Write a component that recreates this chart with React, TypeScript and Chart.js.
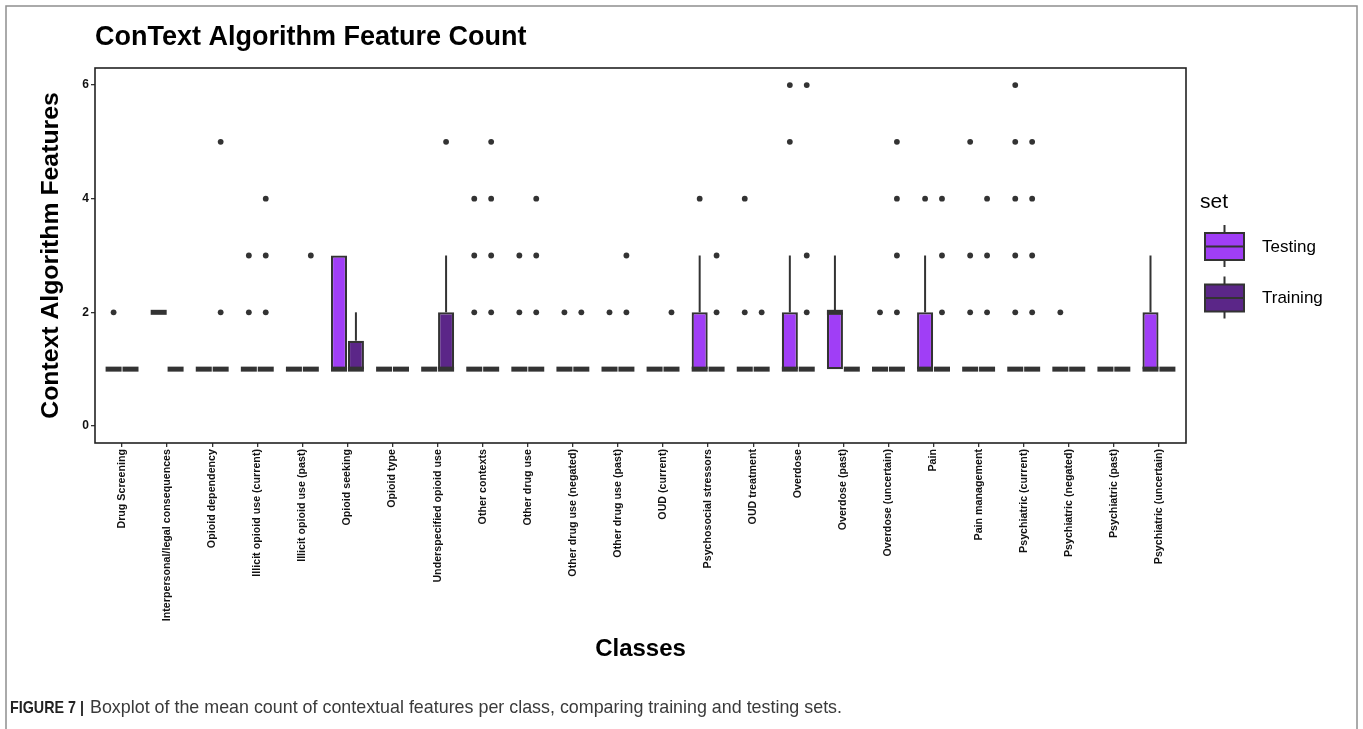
import React, { useEffect, useRef } from 'react';
import { Chart, registerables } from 'chart.js';

Chart.register(...registerables);

const FAMILY = '"Liberation Sans", Arial, Helvetica, sans-serif';

const classes = [
  'Drug Screening',
  'Interpersonal/legal consequences',
  'Opioid dependency',
  'Illicit opioid use (current)',
  'Illicit opioid use (past)',
  'Opioid seeking',
  'Opioid type',
  'Underspecified opioid use',
  'Other contexts',
  'Other drug use',
  'Other drug use (negated)',
  'Other drug use (past)',
  'OUD (current)',
  'Psychosocial stressors',
  'OUD treatment',
  'Overdose',
  'Overdose (past)',
  'Overdose (uncertain)',
  'Pain',
  'Pain management',
  'Psychiatric (current)',
  'Psychiatric (negated)',
  'Psychiatric (past)',
  'Psychiatric (uncertain)',
];

const yTicks = [0, 2, 4, 6];

// Testing set box statistics
const testQ1 = [1, 2, 1, 1, 1, 1, 1, 1, 1, 1, 1, 1, 1, 1, 1, 1, 1, 1, 1, 1, 1, 1, 1, 1];
const testMedian = [1, 2, 1, 1, 1, 1, 1, 1, 1, 1, 1, 1, 1, 1, 1, 1, 2, 1, 1, 1, 1, 1, 1, 1];
const testQ3 = [1, 2, 1, 1, 1, 3, 1, 1, 1, 1, 1, 1, 1, 2, 1, 2, 2, 1, 2, 1, 1, 1, 1, 2];
const testWhiskerHigh = [null, null, null, null, null, null, null, null, null, null, null, null, null, 3, null, 3, 3, null, 3, null, null, null, null, 3];
const testOutliers = [
  [2], [], [], [3, 2], [], [], [], [], [4, 3, 2], [3, 2], [2], [2],
  [], [4], [4, 2], [6, 5], [], [2], [4], [5, 3, 2], [6, 5, 4, 3, 2], [2], [], [],
];

// Training set box statistics
const trainQ1 = [1, 1, 1, 1, 1, 1, 1, 1, 1, 1, 1, 1, 1, 1, 1, 1, 1, 1, 1, 1, 1, 1, 1, 1];
const trainMedian = [1, 1, 1, 1, 1, 1, 1, 1, 1, 1, 1, 1, 1, 1, 1, 1, 1, 1, 1, 1, 1, 1, 1, 1];
const trainQ3 = [1, 1, 1, 1, 1, 1.5, 1, 2, 1, 1, 1, 1, 1, 1, 1, 1, 1, 1, 1, 1, 1, 1, 1, 1];
const trainWhiskerHigh = [null, null, null, null, null, 2, null, 3, null, null, null, null, null, null, null, null, null, null, null, null, null, null, null, null];
const trainOutliers = [
  [], [], [5, 2], [4, 3, 2], [3], [], [], [5], [5, 4, 3, 2], [4, 3, 2], [2], [3, 2],
  [2], [3, 2], [2], [6, 3, 2], [], [5, 4, 3, 2], [4, 3, 2], [4, 3, 2], [5, 4, 3, 2], [], [], [],
];

const seriesNames = ['Testing', 'Training'];
const TITLE = 'ConText Algorithm Feature Count';
const Y_TITLE = 'Context Algorithm Features';
const X_TITLE = 'Classes';
const LEGEND_TITLE = 'set';
const CAPTION_BOLD = 'FIGURE 7 |';
const CAPTION_TEXT = 'Boxplot of the mean count of contextual features per class, comparing training and testing sets.';

const TEST_COLOR = '#A03EF6';
const TRAIN_COLOR = '#5B2688';
const INK = '#333333';
const DODGE = 0.1875;

function boxes(q1: number[], q3: number[], side: number) {
  return classes
    .map((_, i) => ({ x: i + side * DODGE, y: [q1[i], q3[i]] }))
    .filter((d) => d.y[1] > d.y[0]);
}
function whiskers(q3: number[], hi: (number | null)[], side: number) {
  return classes
    .map((_, i) => ({ x: i + side * DODGE, y: hi[i] == null ? null : [q3[i], hi[i]] }))
    .filter((d) => d.y !== null);
}
function medians(med: number[], side: number) {
  return classes.map((_, i) => ({ x: i + side * DODGE, y: med[i] }));
}
function outliers(out: number[][], side: number) {
  const pts: { x: number; y: number }[] = [];
  out.forEach((vals, i) => vals.forEach((v) => pts.push({ x: i + side * DODGE, y: v })));
  return pts;
}

function drawKey(ctx: CanvasRenderingContext2D, x: number, top: number, fill: string) {
  const w = 39;
  const h = 27;
  const cx = x + w / 2;
  ctx.strokeStyle = INK;
  ctx.lineWidth = 2;
  ctx.beginPath();
  ctx.moveTo(cx, top - 8);
  ctx.lineTo(cx, top + h + 7);
  ctx.stroke();
  ctx.fillStyle = fill;
  ctx.fillRect(x, top, w, h);
  ctx.strokeRect(x, top, w, h);
  ctx.beginPath();
  ctx.moveTo(x, top + h / 2);
  ctx.lineTo(x + w, top + h / 2);
  ctx.stroke();
}

const decor = {
  id: 'decor',
  beforeDraw(chart: any) {
    const { ctx } = chart;
    ctx.save();
    ctx.fillStyle = '#ffffff';
    ctx.fillRect(0, 0, chart.width, chart.height);
    ctx.strokeStyle = '#8f8f8f';
    ctx.lineWidth = 1.5;
    ctx.strokeRect(6, 6, chart.width - 12, chart.height + 20);
    ctx.restore();
  },
  afterDraw(chart: any) {
    const { ctx, chartArea: a } = chart;
    ctx.save();
    // panel border
    ctx.strokeStyle = '#222222';
    ctx.lineWidth = 1.6;
    ctx.strokeRect(a.left, a.top, a.right - a.left, a.bottom - a.top);

    // title
    ctx.fillStyle = '#000000';
    ctx.textAlign = 'left';
    ctx.textBaseline = 'alphabetic';
    ctx.font = `bold 27px ${FAMILY}`;
    ctx.fillText(TITLE, a.left, 45);

    // legend
    const lx = a.right + 14;
    ctx.font = `21px ${FAMILY}`;
    ctx.fillStyle = '#000000';
    ctx.fillText(LEGEND_TITLE, lx, 208);
    drawKey(ctx, lx + 5, 233, TEST_COLOR);
    drawKey(ctx, lx + 5, 284.5, TRAIN_COLOR);
    ctx.fillStyle = '#000000';
    ctx.font = `17px ${FAMILY}`;
    ctx.textBaseline = 'middle';
    ctx.fillText(seriesNames[0], lx + 62, 247);
    ctx.fillText(seriesNames[1], lx + 62, 298.5);

    // caption
    ctx.textBaseline = 'alphabetic';
    ctx.font = `bold 17px ${FAMILY}`;
    ctx.fillStyle = '#222222';
    ctx.fillText(CAPTION_BOLD, 10, 713, 74);
    ctx.font = `17.9px ${FAMILY}`;
    ctx.fillStyle = '#3a3a3a';
    ctx.fillText(CAPTION_TEXT, 90, 713, 752);
    ctx.restore();
  },
};

export default function App() {
  const ref = useRef<HTMLCanvasElement | null>(null);

  useEffect(() => {
    document.body.style.margin = '0';
    const canvas = ref.current;
    if (!canvas) return;
    Chart.defaults.font.family = FAMILY;

    const boxCommon = {
      type: 'bar' as const,
      borderColor: INK,
      borderWidth: 2.2,
      borderSkipped: false,
      grouped: false,
      barPercentage: 0.95,
      categoryPercentage: 1,
      order: 2,
    };
    const whiskerCommon = {
      type: 'bar' as const,
      backgroundColor: INK,
      borderWidth: 0,
      grouped: false,
      barPercentage: 1,
      maxBarThickness: 2,
      order: 3,
    };
    const medianCommon = {
      type: 'scatter' as const,
      pointStyle: 'line',
      pointRadius: 8,
      pointHoverRadius: 8,
      borderColor: INK,
      borderWidth: 5,
      order: 1,
    };
    const outlierCommon = {
      type: 'scatter' as const,
      pointRadius: 2.9,
      pointHoverRadius: 2.9,
      backgroundColor: INK,
      borderColor: INK,
      borderWidth: 0,
      order: 0,
    };

    const chart = new Chart(canvas, {
      type: 'bar',
      data: {
        datasets: [
          { ...whiskerCommon, label: 'Testing whisker', data: whiskers(testQ3, testWhiskerHigh, -1) },
          { ...whiskerCommon, label: 'Training whisker', data: whiskers(trainQ3, trainWhiskerHigh, 1) },
          { ...boxCommon, label: seriesNames[0], backgroundColor: TEST_COLOR, data: boxes(testQ1, testQ3, -1) },
          { ...boxCommon, label: seriesNames[1], backgroundColor: TRAIN_COLOR, data: boxes(trainQ1, trainQ3, 1) },
          { ...medianCommon, label: 'Testing median', data: medians(testMedian, -1) },
          { ...medianCommon, label: 'Training median', data: medians(trainMedian, 1) },
          { ...outlierCommon, label: 'Testing outliers', data: outliers(testOutliers, -1) },
          { ...outlierCommon, label: 'Training outliers', data: outliers(trainOutliers, 1) },
        ] as any,
      },
      options: {
        responsive: false,
        devicePixelRatio: 1,
        animation: false,
        events: [],
        layout: { padding: { left: 30, top: 68, right: 177, bottom: 55 } },
        plugins: {
          legend: { display: false },
          tooltip: { enabled: false },
          title: { display: false },
        },
        scales: {
          x: {
            type: 'linear',
            min: -0.6,
            max: 23.6,
            offset: false,
            afterBuildTicks: (scale: any) => {
              scale.ticks = classes.map((_, i) => ({ value: i }));
            },
            afterFit: (scale: any) => {
              scale.height = 729 - 443 - 55;
            },
            ticks: {
              autoSkip: false,
              minRotation: 90,
              maxRotation: 90,
              padding: 2,
              color: '#111111',
              font: { size: 10.7, weight: 'bold' },
              callback: (v: any) => classes[v] ?? '',
            },
            grid: {
              display: true,
              offset: false,
              drawOnChartArea: false,
              drawTicks: true,
              tickLength: 4,
              color: INK,
              lineWidth: 1.3,
            },
            border: { display: false },
            title: {
              display: true,
              text: X_TITLE,
              color: '#000000',
              font: { size: 24, weight: 'bold' },
              padding: { top: 0, bottom: 10 },
            },
          },
          y: {
            type: 'linear',
            min: -0.3,
            max: 6.3,
            afterBuildTicks: (scale: any) => {
              scale.ticks = yTicks.map((v) => ({ value: v }));
            },
            afterFit: (scale: any) => {
              scale.width = 95 - 30;
            },
            ticks: {
              padding: 2,
              color: '#111111',
              font: { size: 12, weight: 'bold' },
            },
            grid: {
              display: true,
              drawOnChartArea: false,
              drawTicks: true,
              tickLength: 4,
              color: INK,
              lineWidth: 1.3,
            },
            border: { display: false },
            title: {
              display: true,
              text: Y_TITLE,
              color: '#000000',
              font: { size: 24.8, weight: 'bold' },
              padding: { top: 6, bottom: 0 },
            },
          },
        },
      } as any,
      plugins: [decor],
    });

    return () => chart.destroy();
  }, []);

  return (
    <div style={{ position: 'absolute', left: 0, top: 0, width: 1363, height: 729 }}>
      <canvas ref={ref} width={1363} height={729} style={{ display: 'block', width: 1363, height: 729 }} />
    </div>
  );
}
